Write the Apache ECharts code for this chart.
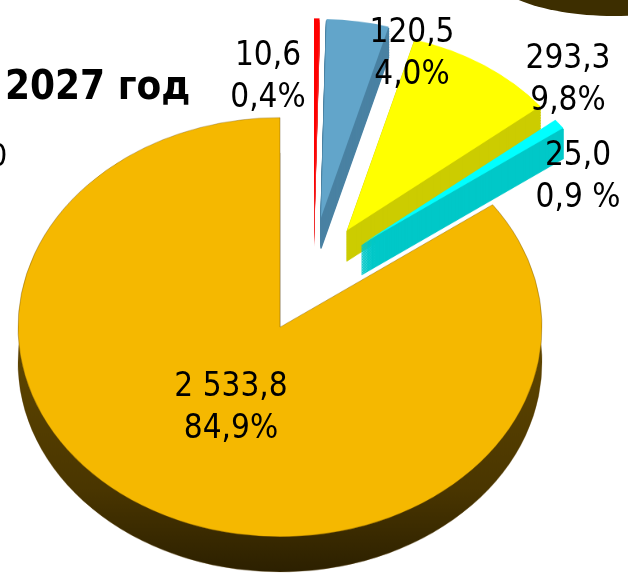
<!DOCTYPE html>
<html>
<head>
<meta charset="utf-8">
<script src="https://cdn.jsdelivr.net/npm/echarts@6/dist/echarts.min.js"></script>
<style>
html, body { margin: 0; padding: 0; background: #fff; }
#wrap { position: relative; width: 628px; height: 588px; overflow: hidden; }
/* pie is drawn 1.25x taller and squashed back to get the tilted (elliptic) look */
#pie { position: absolute; left: 0; top: 0; width: 628px; height: 735px; transform: scaleY(0.8); transform-origin: 0 0; }
#text { position: absolute; left: 0; top: 0; width: 628px; height: 588px; }
</style>
</head>
<body>
<div id="wrap">
    <div id="pie"></div>
    <div id="text"></div>
</div>
<script>
// slices, clockwise from 12 o'clock
const categories = ['s1', 's2', 's3', 's4', 's5']
const values = [10.6, 120.5, 293.3, 25.0, 2533.8]
const pctLabels = ['0,4%', '4,0%', '9,8%', '0,9 %', '84,9%']

const topColors = ['#ff0000', '#62a5ca', '#ffff00', '#00ffff', '#f5b800']
const sideColors = ['#f03030', '#4a82a3', '#cccc00', '#00c8c8', null]

// how far each slice is pulled out of the pie (unsquashed px)
const pullOut = [[34, -138], [41, -137], [67, -121], [82, -104], [0, 0]]
// label anchor points (centre of the two-line block)
const labelAt = [[268, 77], [412, 54], [568, 80], [578, 177], [231, 408]]

const font = '"DejaVu Sans Condensed", "DejaVu Sans", sans-serif'
const center = [280, 409]
const R = 262
const rOut = 248
const depthMain = 44
const depthOut = 38

const fmt = v => {
    const [i, d] = v.toFixed(1).split('.')
    return i.replace(/\B(?=(\d{3})+(?!\d))/g, ' ') + ',' + d
}

const orangeSide = new echarts.graphic.LinearGradient(0, 0, 0, 1, [
    { offset: 0, color: '#7a5a00' },
    { offset: 0.8, color: '#4a3600' },
    { offset: 1, color: '#2c2000' }
])

const base = {
    type: 'pie',
    startAngle: 90,
    clockwise: true,
    silent: true,
    avoidLabelOverlap: false,
    label: { show: false },
    labelLine: { show: false },
    emphasis: { disabled: true },
    animation: false
}

const main = values.length - 1

// one series per slice, other slices transparent
function sliceSeries(k, color, dy, side) {
    let border = 0
    if (side) border = k === 0 ? 0 : 1.5
    else if (k === main) border = 1
    return {
        ...base,
        radius: k === main ? R : rOut,
        center: [center[0] + pullOut[k][0], center[1] + pullOut[k][1] + dy],
        data: values.map((v, i) => ({
            name: categories[i],
            value: v,
            itemStyle: i === k
                ? { color, borderColor: side ? color : 'rgba(90,60,0,0.35)', borderWidth: border }
                : { color: 'transparent', borderWidth: 0 }
        }))
    }
}

const series = []
series.push(sliceSeries(main, orangeSide, depthMain, false))
for (let k = 0; k < main; k++) {
    for (let d = depthOut; d >= 2; d -= 2) series.push(sliceSeries(k, sideColors[k], d, true))
}
series.push(sliceSeries(main, topColors[main], 0, false))
for (let k = 0; k < main; k++) series.push(sliceSeries(k, topColors[k], 0, false))

const pieChart = echarts.init(document.getElementById('pie'))
pieChart.setOption({ series })

const textChart = echarts.init(document.getElementById('text'))
textChart.setOption({
    title: {
        text: '2027 год',
        left: 0,
        top: 64,
        textStyle: { fontFamily: font, fontWeight: 'bold', fontSize: 40, color: '#000' }
    },
    graphic: [
        { type: 'ellipse', shape: { cx: 614, cy: -34, rx: 130, ry: 50 }, style: { fill: '#3d2e00' } },
        { type: 'text', x: -11, y: 142, style: { text: '0', font: '32px "DejaVu Sans Condensed", "DejaVu Sans"', fill: '#000' } }
    ],
    series: [{
        ...base,
        center: [280, 327],
        radius: 200,
        data: values.map((v, i) => ({ name: categories[i], value: v, itemStyle: { color: 'transparent' } })),
        label: {
            show: true,
            position: 'inside',
            color: '#000',
            fontFamily: font,
            fontSize: 33,
            lineHeight: 42,
            align: 'center',
            formatter: p => fmt(p.value) + '\n' + pctLabels[p.dataIndex]
        },
        labelLayout: p => ({
            x: labelAt[p.dataIndex][0],
            y: labelAt[p.dataIndex][1],
            align: 'center',
            verticalAlign: 'middle'
        })
    }]
})
</script>
</body>
</html>
